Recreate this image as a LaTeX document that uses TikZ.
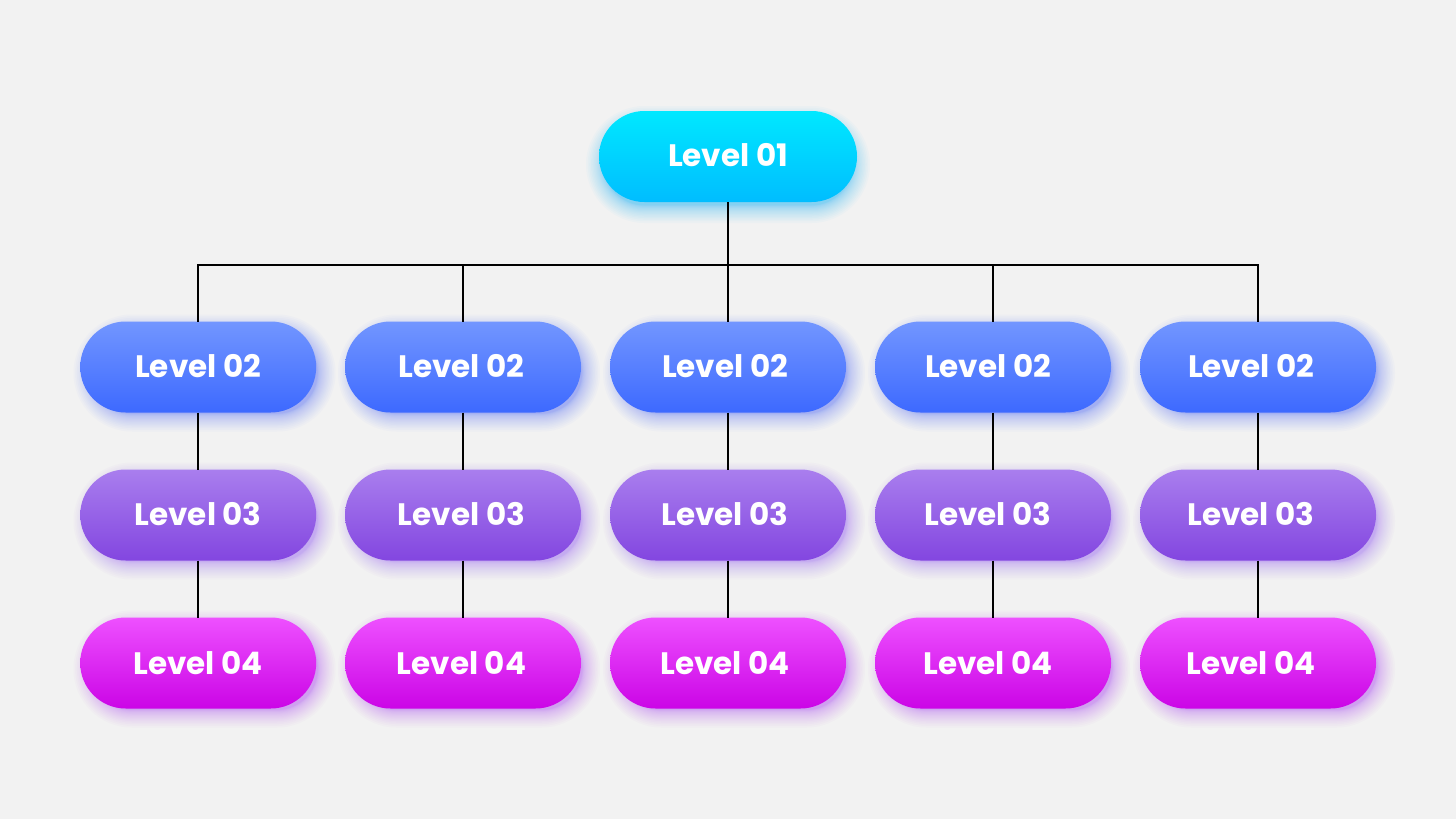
\documentclass[tikz,border=0pt]{standalone}
\usepackage{fontspec}
\setmainfont{Poppins}
\usetikzlibrary{shapes.misc,calc}
\definecolor{bgc}{HTML}{F2F2F2}
\definecolor{aT}{HTML}{00E8FF}\definecolor{aB}{HTML}{00BDFF}\definecolor{aS}{HTML}{00B4FF}
\definecolor{bT}{HTML}{7296FF}\definecolor{bB}{HTML}{3D69FF}\definecolor{bS}{HTML}{4A68FF}
\definecolor{cT}{HTML}{A97EEE}\definecolor{cB}{HTML}{8346E0}\definecolor{cS}{HTML}{9A5CF0}
\definecolor{dT}{HTML}{EE50FF}\definecolor{dB}{HTML}{CB05E6}\definecolor{dS}{HTML}{B040F0}
\tikzset{
  x=1pt,y=-1pt,
  pill/.style={rounded rectangle,minimum height=91pt,inner sep=0pt,outer sep=0pt,text=white,
    font=\fontsize{31}{34}\selectfont\bfseries,text depth=3pt,anchor=center},
  lvlone/.style={pill,minimum width=258pt,top color=aT,bottom color=aB},
  lvltwo/.style={pill,minimum width=236pt,top color=bT,bottom color=bB},
  lvlthree/.style={pill,minimum width=236pt,top color=cT,bottom color=cB},
  lvlfour/.style={pill,minimum width=236pt,top color=dT,bottom color=dB},
  lowtext/.style={text depth=1pt},
  wire/.style={draw=black,line width=2pt}
}
% soft shadow: cx cy w h colour dx dy  (radii bunch inward, so the edge fades out)
\newcommand{\softglow}[7]{%
  \foreach \k in {0,...,19}{%
    \pgfmathsetmacro{\gr}{18*(1-\k/20)*(1-\k/20)-5}
    \fill[#5,fill opacity=0.028,rounded corners={(#4)/2+\gr*1pt-0.01pt}]
      ({#1+#6-(#3)/2-\gr},{#2+#7-(#4)/2-\gr}) rectangle ({#1+#6+(#3)/2+\gr},{#2+#7+(#4)/2+\gr});
  }}
\newcommand{\shifted}[2]{\hspace*{#1pt}#2}
\begin{document}
\begin{tikzpicture}
\useasboundingbox (0,0) rectangle (1456,819);
\fill[bgc] (0,0) rectangle (1456,819);
% shadows
\softglow{728}{156.5}{258}{91}{aS}{0}{8}
\foreach \cx in {198.5,463,728,993,1258}{
  \softglow{\cx}{367}{236}{91}{bS}{6}{6}
  \softglow{\cx}{515}{236}{91}{cS}{6}{6}
  \softglow{\cx}{663}{236}{91}{dS}{6}{6}
}
% nodes
\node[lvlone] (top) at (728,156.5) {Level 01};
\node[lvltwo] (b1) at (198.2,367) {Level 02};
\node[lvltwo] (b2) at (463,367) {\shifted{-3}{Level 02}};
\node[lvltwo] (b3) at (728,367) {\shifted{-6}{Level 02}};
\node[lvltwo] (b4) at (993,367) {\shifted{-10}{Level 02}};
\node[lvltwo] (b5) at (1258,367) {\shifted{-14}{Level 02}};
\node[lvlthree] (c1) at (198.2,515) {Level 03};
\node[lvlthree] (c2) at (463,515) {\shifted{-3}{Level 03}};
\node[lvlthree] (c3) at (728,515) {\shifted{-6}{Level 03}};
\node[lvlthree] (c4) at (993,515) {\shifted{-10}{Level 03}};
\node[lvlthree] (c5) at (1258,515) {\shifted{-14}{Level 03}};
\node[lvlfour,lowtext] (d1) at (198.2,663) {Level 04};
\node[lvlfour,lowtext] (d2) at (463,663) {\shifted{-3}{Level 04}};
\node[lvlfour,lowtext] (d3) at (728,663) {\shifted{-6}{Level 04}};
\node[lvlfour,lowtext] (d4) at (993,663) {\shifted{-10}{Level 04}};
\node[lvlfour,lowtext] (d5) at (1258,663) {\shifted{-14}{Level 04}};
% connectors
\coordinate (busmid) at (728,264.5);
\coordinate (busl) at (b1.north |- busmid);
\coordinate (busr) at (b5.north |- busmid);
\draw[wire,line cap=rect] (busl) -- (busr);
\draw[wire] (top.south) -- (busmid);
\foreach \n in {1,...,5}{
  \draw[wire] (b\n.north |- busmid) -- (b\n.north);
  \draw[wire] (b\n.south) -- (c\n.north);
  \draw[wire] (c\n.south) -- (d\n.north);
}
\end{tikzpicture}
\end{document}
